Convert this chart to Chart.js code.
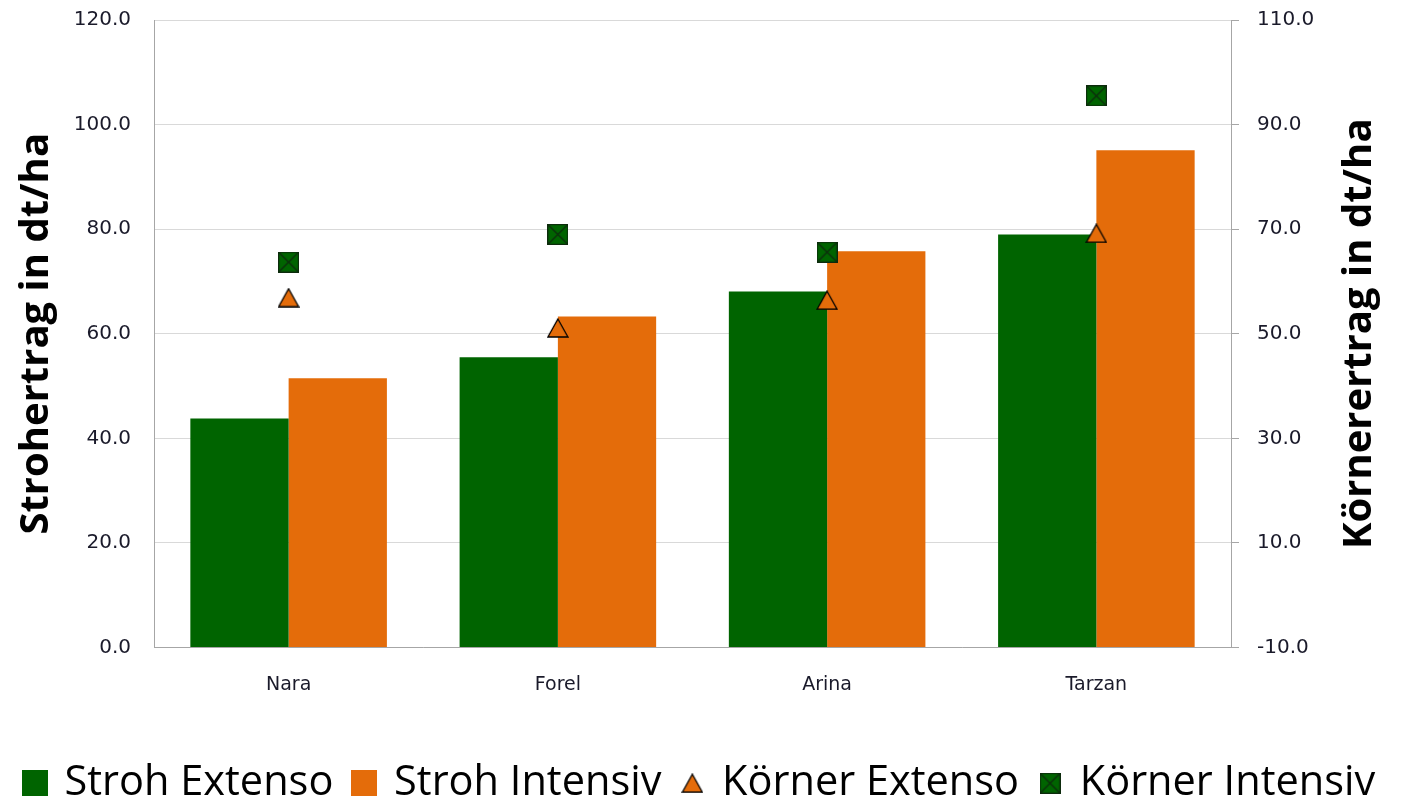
<!DOCTYPE html>
<html>
<head>
<meta charset="utf-8">
<title>Stroh- und Körnerertrag</title>
<script src="https://cdn.jsdelivr.net/npm/chart.js@4.4.1/dist/chart.umd.min.js"></script>
<style>
    html, body { margin: 0; padding: 0; background: #ffffff; }
    #wrap { width: 1401px; height: 806px; }
</style>
</head>
<body>
<div id="wrap"><canvas id="ertrag"></canvas></div>
<script>
    // Daten
    var sorten = ["Nara", "Forel", "Arina", "Tarzan"];
    var strohExtenso = [43.8, 55.5, 68.1, 79.0];
    var strohIntensiv = [51.5, 63.3, 75.8, 95.1];
    var koernerExtenso = [56.9, 51.1, 56.4, 69.2];
    var koernerIntensiv = [63.7, 69.0, 65.6, 95.5];
    var strohTicks = [0, 20, 40, 60, 80, 100, 120];
    var koernerTicks = [-10, 10, 30, 50, 70, 90, 110];

    var gruen = "#006400";
    var orange = "#E46C0A";

    // Marker als kleine Canvas-Bilder
    function quadrat(farbe, groesse) {
        var c = document.createElement("canvas");
        c.width = groesse; c.height = groesse;
        var g = c.getContext("2d");
        g.fillStyle = farbe;
        g.fillRect(0, 0, groesse, groesse);
        return c;
    }

    function kreuzQuadrat(groesse) {
        var c = document.createElement("canvas");
        c.width = groesse; c.height = groesse;
        var g = c.getContext("2d");
        g.fillStyle = gruen;
        g.fillRect(0, 0, groesse, groesse);
        g.strokeStyle = "#0d2b0d";
        g.lineWidth = 1.2;
        g.strokeRect(0.6, 0.6, groesse - 1.2, groesse - 1.2);
        g.beginPath();
        g.moveTo(1, 1); g.lineTo(groesse - 1, groesse - 1);
        g.moveTo(groesse - 1, 1); g.lineTo(1, groesse - 1);
        g.stroke();
        return c;
    }

    function dreieck(b, h) {
        var c = document.createElement("canvas");
        c.width = b + 2; c.height = h + 2;
        var g = c.getContext("2d");
        g.fillStyle = orange;
        g.strokeStyle = "#000000";
        g.lineWidth = 1.3;
        g.beginPath();
        g.moveTo(1 + b / 2, 1);
        g.lineTo(1 + b, 1 + h);
        g.lineTo(1, 1 + h);
        g.closePath();
        g.fill();
        g.stroke();
        return c;
    }

    // rechter Achsentitel, von unten nach oben gelesen
    var rechterTitel = {
        id: "rechterTitel",
        afterDraw: function (chart) {
            var ctx = chart.ctx;
            var area = chart.chartArea;
            ctx.save();
            ctx.translate(1360, (area.top + area.bottom) / 2);
            ctx.rotate(-Math.PI / 2);
            ctx.font = "bold 40px 'Open Sans'";
            ctx.fillStyle = "#000000";
            ctx.textAlign = "center";
            ctx.textBaseline = "middle";
            ctx.fillText("Körnerertrag in dt/ha", 0, 0);
            ctx.restore();
        }
    };

    var ctx = document.getElementById("ertrag").getContext("2d");
    var myChart = new Chart(ctx, {
        type: "bar",
        data: {
            labels: sorten,
            datasets: [{
                    label: "Stroh Extenso",
                    data: strohExtenso,
                    backgroundColor: gruen,
                    pointStyle: quadrat(gruen, 26),
                    yAxisID: "y",
                    order: 2
                },
                {
                    label: "Stroh Intensiv",
                    data: strohIntensiv,
                    backgroundColor: orange,
                    pointStyle: quadrat(orange, 26),
                    yAxisID: "y",
                    order: 2
                },
                {
                    type: "line",
                    label: "Körner Extenso",
                    data: koernerExtenso,
                    showLine: false,
                    pointStyle: dreieck(20, 18),
                    yAxisID: "y1",
                    order: 1
                },
                {
                    type: "line",
                    label: "Körner Intensiv",
                    data: koernerIntensiv,
                    showLine: false,
                    pointStyle: kreuzQuadrat(21),
                    yAxisID: "y1",
                    order: 0
                }
            ]
        },
        options: {
            responsive: true,
            maintainAspectRatio: false,
            animation: false,
            datasets: {
                bar: { categoryPercentage: 0.73, barPercentage: 1.0 }
            },
            layout: { padding: { top: 20, bottom: -8, left: 0, right: 0 } },
            plugins: {
                tooltip: { enabled: false },
                legend: {
                    position: "bottom",
                    labels: {
                        usePointStyle: true,
                        boxWidth: 18,
                        sort: function (a, b) { return a.datasetIndex - b.datasetIndex; },
                        color: "#000000",
                        font: { family: "Open Sans", size: 41.5 },
                        padding: 22
                    }
                }
            },
            scales: {
                x: {
                    grid: { display: false },
                    border: { display: true, color: "#a6a6a6" },
                    ticks: { color: "#1a1a2a", font: { family: "DejaVu Sans", size: 19 }, padding: 18 },
                    afterFit: function (s) { s.height = 93; }
                },
                y: {
                    position: "left",
                    min: 0, max: 120,
                    afterBuildTicks: function (s) { s.ticks = strohTicks.map(function (v) { return { value: v }; }); },
                    grid: { color: "#d9d9d9", tickLength: 19, tickColor: "rgba(0,0,0,0)" },
                    border: { display: true, color: "#a6a6a6" },
                    ticks: {
                        color: "#1a1a2a",
                        font: { family: "DejaVu Sans", size: 20, lineHeight: 0.1 },
                        padding: 4,
                        callback: function (v) { return v.toFixed(1); }
                    },
                    title: {
                        display: true,
                        text: "Strohertrag in dt/ha",
                        color: "#000000",
                        font: { family: "Open Sans", size: 40, weight: "bold" },
                        padding: { top: 13, bottom: 0 }
                    },
                    afterFit: function (s) { s.width = 154; }
                },
                y1: {
                    position: "right",
                    min: -10, max: 110,
                    afterBuildTicks: function (s) { s.ticks = koernerTicks.map(function (v) { return { value: v }; }); },
                    grid: { drawOnChartArea: false, color: "#a6a6a6", tickLength: 8 },
                    border: { display: true, color: "#a6a6a6" },
                    ticks: {
                        color: "#1a1a2a",
                        font: { family: "DejaVu Sans", size: 20, lineHeight: 0.1 },
                        padding: 18,
                        callback: function (v) { return v.toFixed(1); }
                    },
                    afterFit: function (s) { s.width = 170; }
                }
            }
        },
        plugins: [rechterTitel]
    });
</script>
</body>
</html>
